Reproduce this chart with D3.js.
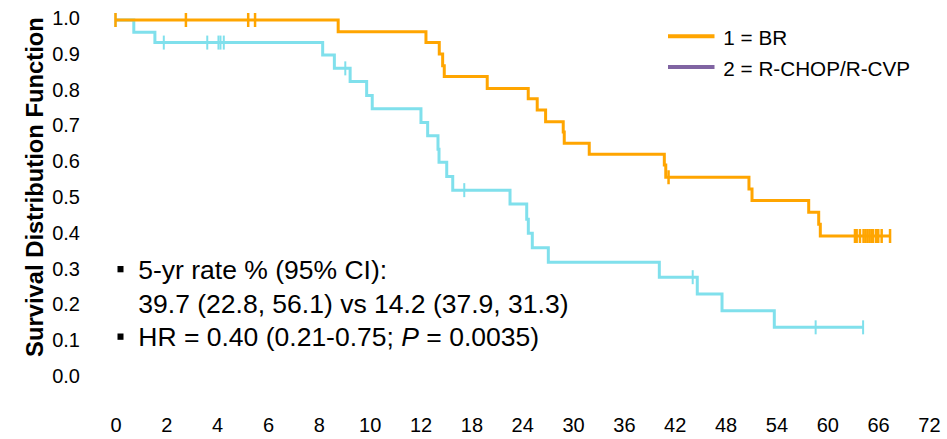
<!DOCTYPE html>
<html>
<head>
<meta charset="utf-8">
<script src="https://cdn.jsdelivr.net/npm/d3@7"></script>
<style>
  html, body { margin: 0; padding: 0; background: #ffffff; }
  svg { display: block; }
  text { font-family: "Liberation Sans", Arial, Helvetica, sans-serif; fill: #000; }
</style>
</head>
<body>
<svg id="chart" width="947" height="439"></svg>
<script>
// Tick labels (the time axis is stretched: 0-12 by 2, then 12-72 by 6)
const xTickValues = [0, 2, 4, 6, 8, 10, 12, 18, 24, 30, 36, 42, 48, 54, 60, 66, 72];
const yTickValues = [0, 0.1, 0.2, 0.3, 0.4, 0.5, 0.6, 0.7, 0.8, 0.9, 1.0];

// Group 1 = BR : event times (months) and survival after each event
const brEventTimes = [8.76, 12.64, 14.21, 14.61, 14.80, 19.87, 24.71, 25.77, 26.76, 28.84, 28.96,
                      31.91, 40.77, 40.94, 50.76, 51.12, 57.81, 58.99, 59.18];
const brSurvival   = [0.967, 0.937, 0.905, 0.872, 0.842, 0.809, 0.780, 0.749, 0.716, 0.687, 0.656,
                      0.625, 0.595, 0.561, 0.528, 0.496, 0.463, 0.430, 0.397];
const brCensored   = [0, 2.77, 5.22, 5.49, 41.27, 63.27, 63.47, 63.86, 64.28, 64.51, 64.75, 64.99,
                      65.22, 65.40, 65.76, 66.02, 66.42, 67.41];

// Group 2 = R-CHOP/R-CVP
const rchopEventTimes = [0.72, 1.55, 8.15, 8.61, 9.23, 9.88, 10.10, 12.05, 12.84, 14.06, 14.18,
                         15.09, 15.80, 22.56, 24.53, 24.72, 25.19, 27.08, 40.18, 44.66, 47.58, 53.75];
const rchopSurvival   = [0.966, 0.937, 0.902, 0.865, 0.828, 0.789, 0.752, 0.714, 0.677, 0.639, 0.603,
                         0.563, 0.525, 0.486, 0.444, 0.405, 0.364, 0.324, 0.282, 0.235, 0.188, 0.142];
const rchopCensored   = [0, 1.90, 3.61, 4.05, 4.13, 4.26, 9.04, 17.16, 44.12, 58.63, 64.23];

const legendLabels = ["1 = BR", "2 = R-CHOP/R-CVP"];
const annotationLines = ["5-yr rate % (95% CI):", "39.7 (22.8, 56.1) vs 14.2 (37.9, 31.3)"];

const colors = { br: "#FFA500", rchop: "#80E0EC", legend2: "#8064A2" };

const svg = d3.select("#chart");

// Piecewise x scale: every tick label gets the same spacing
const x0 = 115.5, xStep = 50.84;
const x = d3.scaleLinear()
  .domain(xTickValues)
  .range(xTickValues.map((d, i) => x0 + i * xStep));
const y = d3.scaleLinear().domain([0, 1]).range([378.2, 20]);

// Axes (labels only)
const xAxis = svg.append("g")
  .attr("transform", "translate(0,418)")
  .call(d3.axisBottom(x).tickValues(xTickValues).tickSize(0).tickPadding(0).tickFormat(d3.format("d")));
xAxis.select(".domain").remove();
xAxis.selectAll("text").attr("font-size", 20).attr("font-family", null);

const yAxis = svg.append("g")
  .attr("transform", "translate(80,0)")
  .call(d3.axisLeft(y).tickValues(yTickValues).tickSize(0).tickPadding(0).tickFormat(d3.format(".1f")));
yAxis.select(".domain").remove();
yAxis.selectAll("text").attr("font-size", 20).attr("font-family", null).attr("dy", "0.22em");

svg.append("text")
  .attr("transform", "translate(42.5,187) rotate(-90)")
  .attr("text-anchor", "middle")
  .attr("font-size", 23.8)
  .attr("font-weight", "bold")
  .text("Survival Distribution Function");

// Kaplan-Meier step curves
function stepPoints(times, surv, censored) {
  const pts = [[0, 1]];
  times.forEach((t, i) => pts.push([t, surv[i]]));
  const end = Math.max(d3.max(censored), d3.max(times));
  pts.push([end, surv[surv.length - 1]]);
  return pts;
}
function survivalAt(times, surv, t) {
  let s = 1;
  times.forEach((tt, i) => { if (tt <= t) s = surv[i]; });
  return s;
}
const line = d3.line().x(d => x(d[0])).y(d => y(d[1])).curve(d3.curveStepAfter);

function drawGroup(times, surv, censored, color, censorWidth) {
  const g = svg.append("g");
  g.append("path")
    .datum(stepPoints(times, surv, censored))
    .attr("fill", "none")
    .attr("stroke", color)
    .attr("stroke-width", 3)
    .attr("d", line);
  g.selectAll("line.censor")
    .data(censored)
    .join("line")
    .attr("class", "censor")
    .attr("x1", d => x(d)).attr("x2", d => x(d))
    .attr("y1", d => y(survivalAt(times, surv, d)) - 7)
    .attr("y2", d => y(survivalAt(times, surv, d)) + 7)
    .attr("stroke", color)
    .attr("stroke-width", censorWidth);
}
drawGroup(rchopEventTimes, rchopSurvival, rchopCensored, colors.rchop, 2);
drawGroup(brEventTimes, brSurvival, brCensored, colors.br, 2.5);

// Legend
const legend = svg.append("g");
const legendColors = [colors.br, colors.legend2];
legendLabels.forEach((lab, i) => {
  const cy = 36.3 + i * 30.7;
  legend.append("line")
    .attr("x1", 668).attr("x2", 714.5)
    .attr("y1", cy).attr("y2", cy)
    .attr("stroke", legendColors[i]).attr("stroke-width", 4);
  legend.append("text")
    .attr("x", 723.3).attr("y", cy + 8.7)
    .attr("font-size", 20.7)
    .text(lab);
});

// Statistics annotation
const note = svg.append("g");
const noteFont = 26.5;
note.append("rect").attr("x", 117.5).attr("y", 266).attr("width", 6).attr("height", 6.3).attr("fill", "#000");
note.append("text").attr("x", 138.3).attr("y", 279.3).attr("font-size", noteFont).text(annotationLines[0]);
note.append("text").attr("x", 138.3).attr("y", 312.7).attr("font-size", noteFont).text(annotationLines[1]);
note.append("rect").attr("x", 117.5).attr("y", 333.5).attr("width", 6).attr("height", 6.3).attr("fill", "#000");
const hr = note.append("text").attr("x", 138.3).attr("y", 346).attr("font-size", noteFont);
hr.append("tspan").text("HR = 0.40 (0.21-0.75; ");
hr.append("tspan").attr("font-style", "italic").text("P");
hr.append("tspan").text(" = 0.0035)");
</script>
</body>
</html>
